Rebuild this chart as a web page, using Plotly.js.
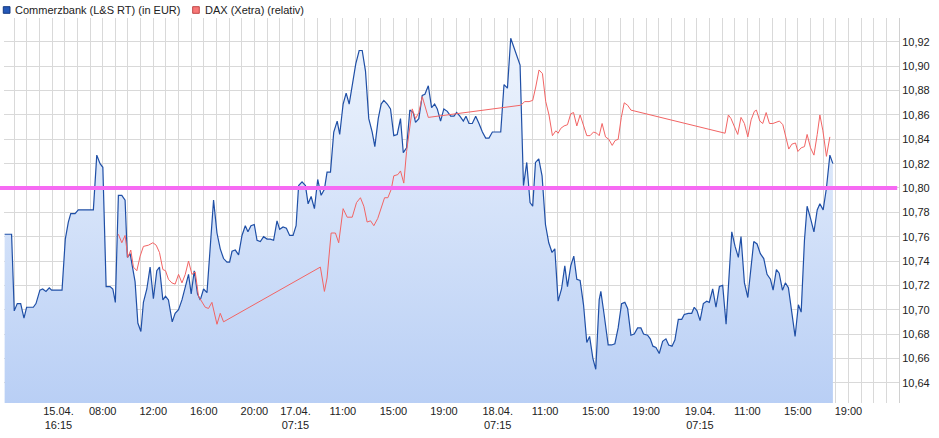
<!DOCTYPE html>
<html>
<head>
<meta charset="utf-8">
<script src="https://cdn.plot.ly/plotly-3.0.1.min.js"></script>
<style>html,body{margin:0;padding:0;background:#fff;}#chart{width:939px;height:438px;}</style>
</head>
<body>
<div id="chart"></div>
<script>
// Time axis: compressed trading hours (each day 07:00-23:00 = 16 units, 16.04 07:00 = 6)
const cbTime = [-0.76,-0.21,0,0.24,0.51,0.77,0.98,1.51,1.72,2.03,2.25,2.51,2.77,2.96,3.78,4.04,4.28,4.47,4.81,5.07,6.26,6.53,6.79,7.01,7.27,7.58,7.80,8.00,8.24,8.51,8.77,8.95,9.17,9.38,9.56,9.78,10.02,10.22,10.49,10.75,11.01,11.28,11.49,11.76,11.97,12.20,12.50,12.73,13.00,13.27,13.53,13.79,14.00,14.24,14.50,14.72,14.98,15.25,15.51,15.77,16.04,16.30,16.56,16.83,17.04,17.23,17.49,17.75,18.02,18.28,18.49,18.73,18.99,19.21,19.47,19.73,20.00,20.26,20.52,20.79,21.00,21.27,21.53,21.79,22.06,22.30,22.50,22.77,23.04,23.25,23.49,23.75,24.01,24.28,24.54,24.75,25.02,25.28,25.55,25.75,26.02,26.26,26.50,26.76,27.02,27.29,27.53,27.79,28.05,28.32,28.53,28.80,29.03,29.24,29.51,29.77,30.03,30.30,30.56,30.78,31.04,31.30,31.57,31.75,32.01,32.28,32.49,32.76,33.02,33.26,33.47,33.73,33.99,34.26,34.53,34.79,35.00,35.26,35.53,35.74,35.98,36.24,36.51,36.77,37.04,37.30,37.56,37.83,38.49,38.75,39.02,39.28,39.54,39.81,40.02,40.29,40.55,40.81,41.02,41.24,41.50,41.76,42.03,42.29,42.55,42.77,43.03,43.30,43.56,43.77,44.03,44.27,44.51,44.77,45.04,45.30,45.52,45.78,46.01,46.28,46.41,46.67,46.99,47.26,47.52,47.78,48.05,48.31,48.53,48.79,49.05,49.32,49.58,49.79,50.11,50.32,50.53,50.77,51.03,51.30,51.56,51.78,52.04,52.27,52.54,52.81,53.01,53.33,53.60,53.80,54.02,54.26,54.52,54.79,54.99,55.26,55.52,55.79,56.05,56.32,56.53,56.77,57.03,57.29,57.50,57.77,58.04,58.30,58.51,58.77,59.03,59.30,59.56,59.83,60.04,60.30,60.52,60.78,61.01,61.25,61.47,61.78,62.04,62.26,62.52,62.73,63.00,63.27,63.53,63.74,64.00,64.26,64.53,64.77];
const cbPrice = [10.762,10.762,10.699,10.705,10.705,10.693,10.702,10.702,10.705,10.716,10.717,10.715,10.718,10.716,10.716,10.758,10.772,10.779,10.779,10.782,10.782,10.827,10.820,10.817,10.719,10.719,10.717,10.706,10.794,10.794,10.790,10.743,10.746,10.735,10.723,10.689,10.682,10.706,10.717,10.735,10.709,10.732,10.735,10.708,10.711,10.708,10.690,10.697,10.700,10.708,10.719,10.729,10.713,10.732,10.713,10.708,10.717,10.714,10.752,10.790,10.763,10.750,10.742,10.739,10.739,10.748,10.749,10.745,10.761,10.769,10.764,10.769,10.770,10.757,10.756,10.760,10.758,10.758,10.757,10.773,10.766,10.768,10.767,10.761,10.761,10.769,10.802,10.805,10.802,10.787,10.793,10.783,10.807,10.794,10.799,10.813,10.813,10.846,10.855,10.844,10.869,10.878,10.869,10.887,10.902,10.913,10.913,10.896,10.857,10.846,10.834,10.857,10.869,10.872,10.869,10.865,10.843,10.844,10.857,10.829,10.833,10.864,10.862,10.854,10.857,10.876,10.877,10.884,10.866,10.869,10.865,10.855,10.865,10.863,10.859,10.859,10.862,10.859,10.855,10.859,10.853,10.853,10.859,10.853,10.846,10.841,10.841,10.846,10.846,10.885,10.882,10.923,10.915,10.906,10.901,10.802,10.821,10.788,10.785,10.821,10.824,10.810,10.770,10.755,10.747,10.750,10.707,10.717,10.736,10.719,10.736,10.744,10.725,10.724,10.704,10.673,10.678,10.660,10.651,10.708,10.715,10.696,10.671,10.671,10.672,10.685,10.705,10.706,10.701,10.679,10.680,10.685,10.685,10.680,10.679,10.676,10.670,10.669,10.664,10.674,10.676,10.671,10.670,10.675,10.692,10.692,10.696,10.697,10.697,10.702,10.699,10.691,10.705,10.707,10.706,10.717,10.702,10.719,10.720,10.688,10.723,10.764,10.752,10.743,10.760,10.722,10.710,10.734,10.756,10.754,10.746,10.742,10.729,10.725,10.716,10.733,10.730,10.716,10.722,10.718,10.701,10.678,10.704,10.698,10.757,10.785,10.775,10.764,10.782,10.787,10.782,10.800,10.827,10.820];

const daxTime = [8.24,8.51,8.77,8.99,9.22,9.43,9.70,9.96,10.22,10.62,10.97,11.23,11.49,11.76,11.97,12.20,12.47,12.73,13.00,13.27,13.53,13.79,14.06,14.32,14.58,14.85,15.11,15.37,15.64,16.04,16.30,16.56,24.22,24.54,24.75,25.07,25.41,25.67,26.02,26.34,26.74,27.08,27.39,27.66,27.92,28.19,28.45,28.76,29.11,29.30,29.56,29.83,30.03,30.35,30.56,30.82,31.04,31.30,31.49,31.75,32.01,32.28,32.50,32.76,40.07,40.39,40.73,41.02,41.26,41.52,41.79,42.05,42.31,42.58,42.85,43.03,43.24,43.50,43.77,44.03,44.25,44.51,44.77,45.04,45.30,45.56,45.83,46.09,46.28,46.51,46.78,47.04,47.31,47.54,47.78,48.03,48.26,48.53,48.79,56.24,56.50,56.71,56.97,57.24,57.50,57.77,58.04,58.30,58.56,58.72,58.99,59.22,59.49,59.75,60.02,60.28,60.54,60.81,61.07,61.28,61.52,61.81,62.00,62.26,62.52,62.73,63.00,63.27,63.53,63.74,63.98,64.26,64.53];
const daxRel = [10.762,10.755,10.761,10.743,10.749,10.735,10.732,10.744,10.752,10.753,10.755,10.753,10.747,10.733,10.732,10.725,10.722,10.721,10.729,10.722,10.729,10.740,10.729,10.731,10.711,10.706,10.702,10.701,10.706,10.688,10.697,10.690,10.735,10.715,10.726,10.763,10.763,10.755,10.783,10.776,10.776,10.788,10.792,10.785,10.772,10.773,10.769,10.775,10.785,10.792,10.792,10.799,10.810,10.811,10.814,10.804,10.830,10.850,10.865,10.857,10.862,10.875,10.867,10.858,10.868,10.871,10.871,10.872,10.883,10.897,10.894,10.871,10.860,10.843,10.847,10.845,10.849,10.851,10.852,10.861,10.862,10.851,10.860,10.851,10.843,10.843,10.846,10.845,10.843,10.853,10.842,10.840,10.835,10.839,10.840,10.858,10.870,10.868,10.864,10.845,10.860,10.857,10.850,10.844,10.858,10.853,10.842,10.856,10.863,10.864,10.855,10.853,10.862,10.853,10.853,10.854,10.855,10.852,10.841,10.832,10.836,10.837,10.830,10.833,10.834,10.844,10.833,10.827,10.844,10.860,10.847,10.826,10.842];

const refLevel = 10.80;
const tickPos = [3.5,7,11,15,19,22.25,26,30,34,38.25,42,46,50,54.25,58,62,66];
const tickText = ['15.04.<br>16:15','08:00','12:00','16:00','20:00','17.04.<br>07:15','11:00','15:00','19:00','18.04.<br>07:15','11:00','15:00','19:00','19.04.<br>07:15','11:00','15:00','19:00'];
const seriesNames = ['Commerzbank (L&S RT) (in EUR)','DAX (Xetra) (relativ)'];
const seriesColors = ['#1f4fa6', '#f26464'];
const legendFill = ['#2458b8', '#f87878'];
const legendEdge = ['#163a80', '#c04848'];

const xRange = [-0.81, 70];
const yRange = [10.6233, 10.9397];
const fontFam = 'Liberation Sans, Arial, sans-serif';

const traces = [
  {
    x: cbTime, y: cbPrice, type: 'scatter', mode: 'lines', name: seriesNames[0],
    line: {color: seriesColors[0], width: 1.2},
    fill: 'tozeroy',
    fillgradient: {type: 'vertical', start: yRange[0], stop: 10.93,
      colorscale: [[0, '#b9cff5'], [1, '#eff5fd']]},
    hoverinfo: 'skip'
  },
  {
    x: daxTime, y: daxRel, type: 'scatter', mode: 'lines', name: seriesNames[1],
    line: {color: seriesColors[1], width: 1},
    hoverinfo: 'skip'
  },
  {
    x: [null], y: [null], xaxis: 'x2', type: 'scatter', mode: 'markers',
    showlegend: false, hoverinfo: 'skip'
  }
];

// legend drawn as text annotations + small squares (paper coordinates)
const legendX = [0.0095, 0.2222];
const legendSq = [[-0.0008, 0.0067], [0.2108, 0.2182]];
const legendY = 1.0205;
const annotations = seriesNames.map((n, i) => ({
  xref: 'paper', yref: 'paper', x: legendX[i], y: legendY, xanchor: 'left', yanchor: 'middle',
  text: n, showarrow: false, font: {family: fontFam, size: 11, color: '#222222'}
}));
const shapes = seriesNames.map((n, i) => ({
  type: 'rect', xref: 'paper', yref: 'paper', x0: legendSq[i][0], x1: legendSq[i][1],
  y0: 1.0122, y1: 1.0294, fillcolor: legendFill[i], line: {color: legendEdge[i], width: 1}
}));
shapes.push({type: 'line', xref: 'paper', yref: 'y', x0: -0.005, x1: 0.998, y0: refLevel, y1: refLevel,
  line: {color: '#f66af3', width: 4}});

const layout = {
  width: 939, height: 438,
  margin: {l: 4, r: 40, t: 18, b: 35, pad: 0, autoexpand: false},
  paper_bgcolor: '#ffffff', plot_bgcolor: '#ffffff',
  font: {family: fontFam, size: 11, color: '#222222'},
  separators: ', ',
  showlegend: false,
  xaxis: {
    range: xRange, tickmode: 'linear', tick0: 0, dtick: 1,
    showgrid: true, gridcolor: '#d9d9d9', gridwidth: 1,
    showticklabels: false, ticks: '', zeroline: false, showline: false, fixedrange: true
  },
  xaxis2: {
    overlaying: 'x', anchor: 'y', side: 'bottom', range: xRange,
    tickmode: 'array', tickvals: tickPos, ticktext: tickText,
    showgrid: false, ticks: '', zeroline: false, showline: false,
    tickfont: {family: fontFam, size: 11, color: '#222222'}, fixedrange: true
  },
  yaxis: {
    side: 'right', range: yRange, tickmode: 'linear', tick0: 10.64, dtick: 0.02,
    tickformat: '.2f', showgrid: true, gridcolor: '#d9d9d9', gridwidth: 1,
    zeroline: false, showline: true, linecolor: '#d0d0d0', linewidth: 1,
    ticks: '', tickfont: {family: fontFam, size: 11, color: '#222222'}, fixedrange: true
  },
  annotations: annotations,
  shapes: shapes
};

Plotly.newPlot('chart', traces, layout, {staticPlot: true, displayModeBar: false});
</script>
</body>
</html>
